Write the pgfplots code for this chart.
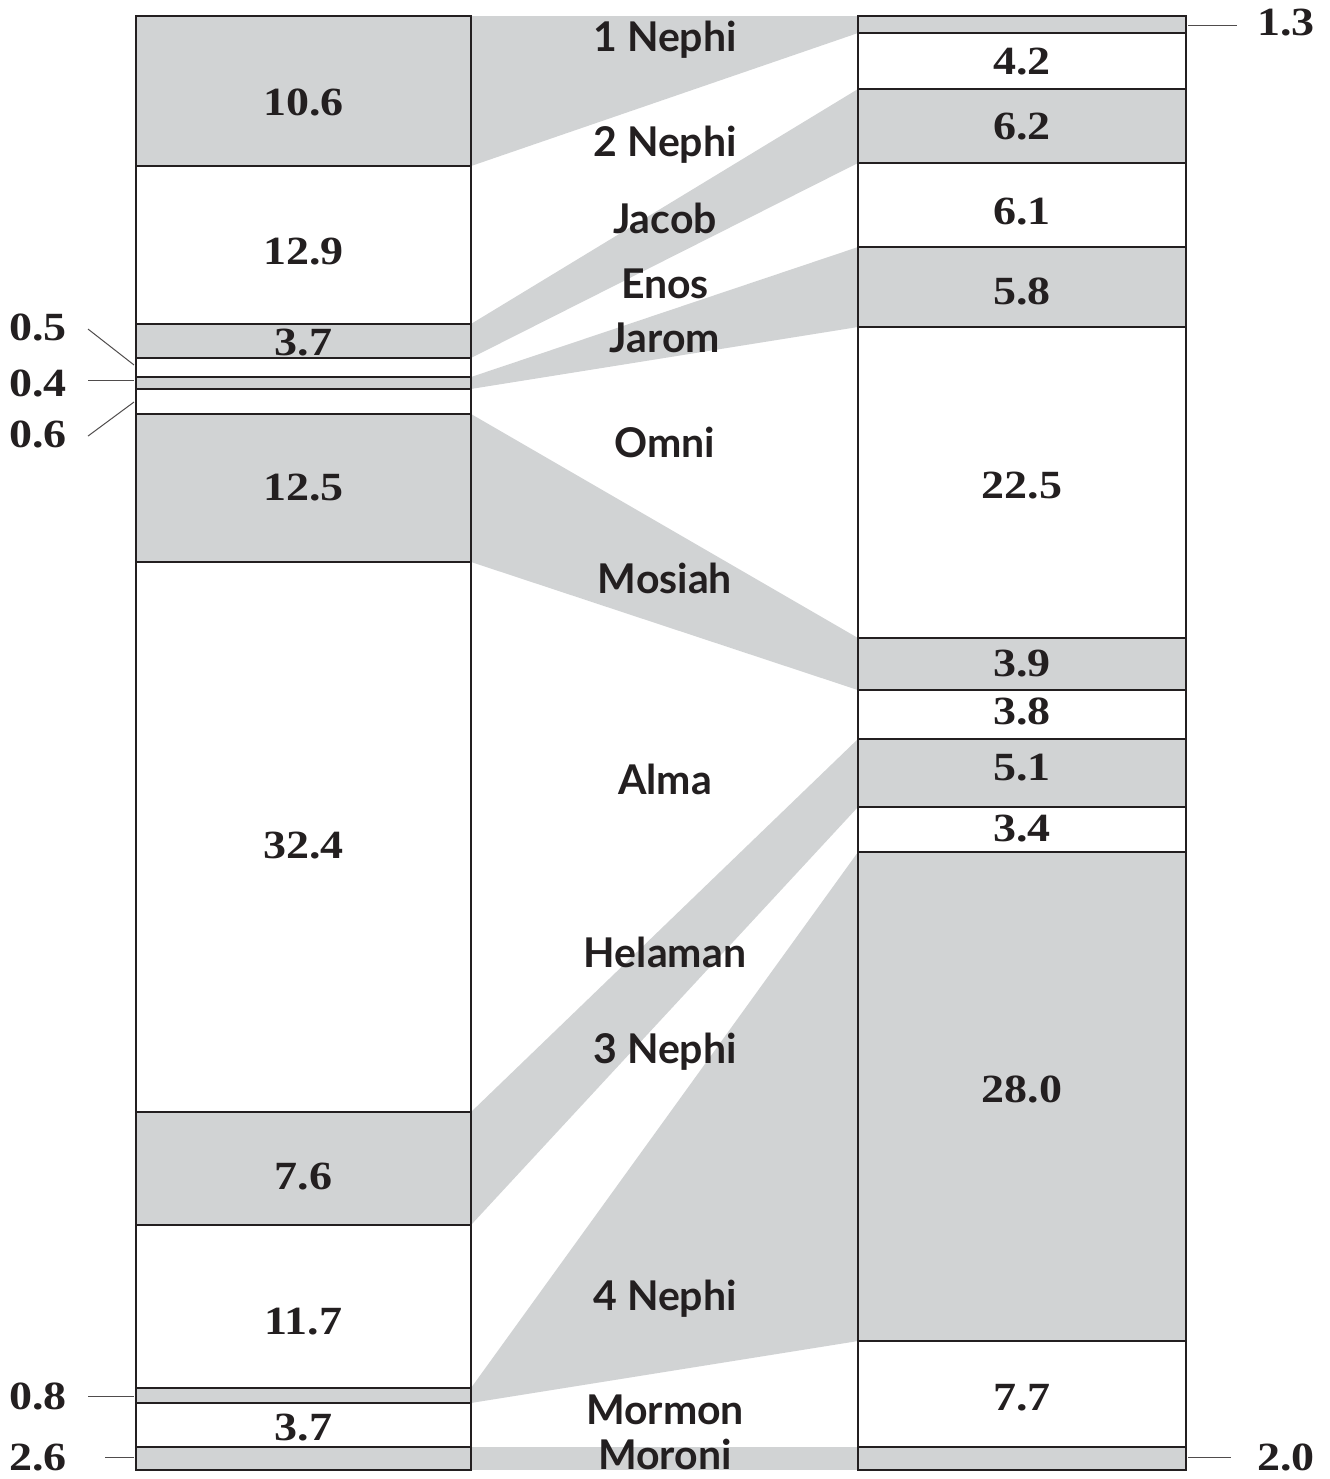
\documentclass[border=0pt]{standalone}
\usepackage{pgfplots}
\pgfplotsset{compat=1.18}
\usepackage{fontspec}
\setmainfont{Liberation Serif}
\newfontfamily\numfont{Liberation Serif}[FakeStretch=1.15]
\newfontfamily\bookfont{Lato}
\definecolor{bgray}{HTML}{D1D3D4}
\definecolor{ink}{HTML}{231F20}
\pgfplotsset{
  base/.style={scale only axis, width=664.5pt, height=739.5pt,
    xmin=0, xmax=1329, ymin=-1.1004, ymax=100.619, y dir=reverse,
    hide axis, clip=false},
}
\tikzset{
  num/.style={font=\numfont\bfseries\fontsize{20}{24}\selectfont, text=ink, inner sep=0pt},
  book/.style={font=\bookfont\bfseries\fontsize{20.5}{24}\selectfont, text=ink, inner sep=0pt, anchor=base},
}
\begin{document}
\begin{tikzpicture}
% ---- bands, leader lines, bounding box
\begin{axis}[base]
\addplot[draw=none, mark=none] coordinates {(0,-1.1004) (1329,100.619)};
\addplot[fill=bgray, draw=none] coordinates {(471,0) (858,0) (858,1.17) (471,10.32)} -- cycle;
\addplot[fill=bgray, draw=none] coordinates {(471,21.18) (858,5.02) (858,10.11) (471,23.52)} -- cycle;
\addplot[fill=bgray, draw=none] coordinates {(471,24.83) (858,15.89) (858,21.39) (471,25.65)} -- cycle;
\addplot[fill=bgray, draw=none] coordinates {(471,27.37) (858,42.78) (858,46.36) (471,37.55)} -- cycle;
\addplot[fill=bgray, draw=none] coordinates {(471,75.38) (858,49.72) (858,54.40) (471,83.15)} -- cycle;
\addplot[fill=bgray, draw=none] coordinates {(471,94.36) (858,57.50) (858,91.13) (471,95.39)} -- cycle;
\addplot[fill=bgray, draw=none] coordinates {(471,98.42) (858,98.42) (858,100) (471,100)} -- cycle;
\addplot[ink!80, line width=0.5pt, mark=none] coordinates {(88,21.53) (134,24.0)};
\addplot[ink!80, line width=0.5pt, mark=none] coordinates {(88,25.10) (134,25.10)};
\addplot[ink!80, line width=0.5pt, mark=none] coordinates {(88,28.89) (134,26.55)};
\addplot[ink!80, line width=0.5pt, mark=none] coordinates {(88,94.91) (134,94.91)};
\addplot[ink!80, line width=0.5pt, mark=none] coordinates {(105,99.17) (134,99.17)};
\addplot[ink!80, line width=0.5pt, mark=none] coordinates {(1188,0.62) (1237,0.62)};
\addplot[ink!80, line width=0.5pt, mark=none] coordinates {(1188,99.17) (1231,99.17)};
\end{axis}
% ---- left column
\begin{axis}[base, ybar stacked, bar width=335,
  every axis plot/.append style={draw=ink, line width=1.25pt}]
\addplot[fill=bgray] coordinates {(303.5,10.32)}; % 1 Nephi
\addplot[fill=white] coordinates {(303.5,10.86)}; % 2 Nephi
\addplot[fill=bgray] coordinates {(303.5,2.34)};  % Jacob
\addplot[fill=white] coordinates {(303.5,1.31)};  % Enos
\addplot[fill=bgray] coordinates {(303.5,0.82)};  % Jarom
\addplot[fill=white] coordinates {(303.5,1.72)};  % Omni
\addplot[fill=bgray] coordinates {(303.5,10.18)}; % Mosiah
\addplot[fill=white] coordinates {(303.5,37.83)}; % Alma
\addplot[fill=bgray] coordinates {(303.5,7.77)};  % Helaman
\addplot[fill=white] coordinates {(303.5,11.21)}; % 3 Nephi
\addplot[fill=bgray] coordinates {(303.5,1.03)};  % 4 Nephi
\addplot[fill=white] coordinates {(303.5,3.03)};  % Mormon
\addplot[fill=bgray] coordinates {(303.5,1.58)};  % Moroni
\end{axis}
% ---- right column
\begin{axis}[base, ybar stacked, bar width=328,
  every axis plot/.append style={draw=ink, line width=1.25pt}]
\addplot[fill=bgray] coordinates {(1022,1.17)};  % 1 Nephi
\addplot[fill=white] coordinates {(1022,3.85)};  % 2 Nephi
\addplot[fill=bgray] coordinates {(1022,5.09)};  % Jacob
\addplot[fill=white] coordinates {(1022,5.78)};  % Enos
\addplot[fill=bgray] coordinates {(1022,5.50)};  % Jarom
\addplot[fill=white] coordinates {(1022,21.39)}; % Omni
\addplot[fill=bgray] coordinates {(1022,3.58)};  % Mosiah
\addplot[fill=white] coordinates {(1022,3.36)};  % Alma
\addplot[fill=bgray] coordinates {(1022,4.68)};  % Helaman
\addplot[fill=white] coordinates {(1022,3.10)};  % 3 Nephi
\addplot[fill=bgray] coordinates {(1022,33.63)}; % 4 Nephi
\addplot[fill=white] coordinates {(1022,7.29)};  % Mormon
\addplot[fill=bgray] coordinates {(1022,1.58)};  % Moroni
\end{axis}
% ---- all text
\begin{axis}[base]
\node[num, anchor=base] at (axis cs:303.5,6.82) {10.6};
\node[num, anchor=base] at (axis cs:303.5,17.12) {12.9};
\node[num, anchor=base] at (axis cs:303.5,23.35) {3.7};
\node[num, anchor=base] at (axis cs:303.5,33.29) {12.5};
\node[num, anchor=base] at (axis cs:303.5,57.91) {32.4};
\node[num, anchor=base] at (axis cs:303.5,80.74) {7.6};
\node[num, anchor=base] at (axis cs:303.5,90.65) {11.7};
\node[num, anchor=base] at (axis cs:303.5,97.94) {3.7};
\node[num, anchor=base east] at (axis cs:67,22.35) {0.5};
\node[num, anchor=base east] at (axis cs:67,26.20) {0.4};
\node[num, anchor=base east] at (axis cs:67,29.71) {0.6};
\node[num, anchor=base east] at (axis cs:67,95.87) {0.8};
\node[num, anchor=base east] at (axis cs:67,100.0) {2.6};
\node[num, anchor=base] at (axis cs:1022,3.99) {4.2};
\node[num, anchor=base] at (axis cs:1022,8.46) {6.2};
\node[num, anchor=base] at (axis cs:1022,14.31) {6.1};
\node[num, anchor=base] at (axis cs:1022,19.81) {5.8};
\node[num, anchor=base] at (axis cs:1022,33.15) {22.5};
\node[num, anchor=base] at (axis cs:1022,45.46) {3.9};
\node[num, anchor=base] at (axis cs:1022,48.76) {3.8};
\node[num, anchor=base] at (axis cs:1022,52.61) {5.1};
\node[num, anchor=base] at (axis cs:1022,56.74) {3.4};
\node[num, anchor=base] at (axis cs:1022,74.69) {28.0};
\node[num, anchor=base] at (axis cs:1022,95.94) {7.7};
\node[num, anchor=base west] at (axis cs:1257,1.31) {1.3};
\node[num, anchor=base west] at (axis cs:1257,100.0) {2.0};
\node[book] at (axis cs:665,2.41) {1 Nephi};
\node[book] at (axis cs:665,9.63) {2 Nephi};
\node[book] at (axis cs:665,14.99) {Jacob};
\node[book] at (axis cs:665,19.46) {Enos};
\node[book] at (axis cs:665,23.11) {Jarom};
\node[book] at (axis cs:665,30.33) {Omni};
\node[book] at (axis cs:665,39.75) {Mosiah};
\node[book] at (axis cs:665,53.51) {Alma};
\node[book] at (axis cs:665,65.41) {Helaman};
\node[book] at (axis cs:665,72.01) {3 Nephi};
\node[book] at (axis cs:665,89.06) {4 Nephi};
\node[book] at (axis cs:665,96.84) {Mormon};
\node[book] at (axis cs:665,99.93) {Moroni};
\end{axis}
\end{tikzpicture}
\end{document}
